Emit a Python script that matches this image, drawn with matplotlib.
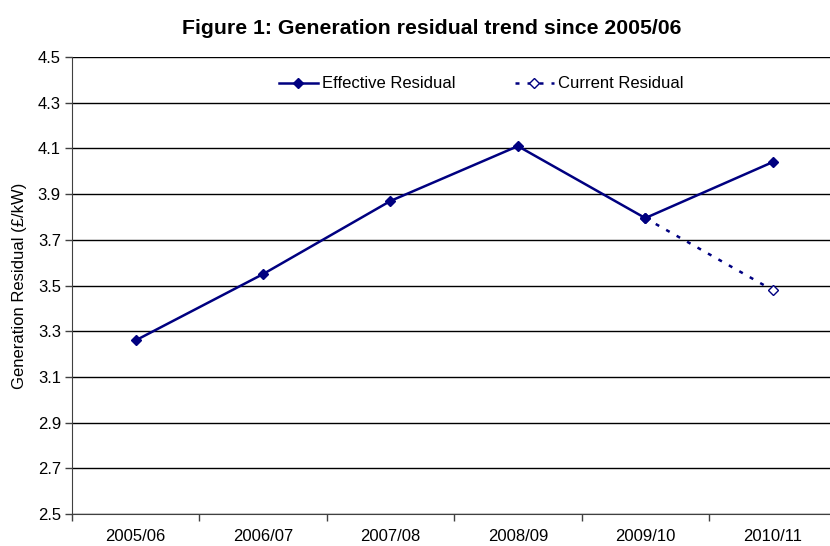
import matplotlib.pyplot as plt
import numpy as np

plt.rcParams['font.family'] = ['Liberation Sans', 'DejaVu Sans']

# Residual values (£/kW) by charging year
years = ['2005/06', '2006/07', '2007/08', '2008/09', '2009/10', '2010/11']
effective = [3.26, 3.55, 3.87, 4.11, 3.795, 4.04]
current_years = ['2009/10', '2010/11']
current = [3.795, 3.48]

navy = '#000080'

fig = plt.figure(figsize=(8.30, 5.46), dpi=100)
ax = fig.add_axes([72 / 830, 1 - 514 / 546, 1 - 72 / 830, (514 - 57) / 546])

x = np.arange(len(years))
xc = [years.index(y) for y in current_years]

ax.plot(x, effective, color=navy, lw=1.8, marker='D', ms=5,
        mfc=navy, mec=navy, label='Effective Residual', zorder=4)
ax.plot(xc, current, color=navy, lw=1.8, ls=(0, (1.6, 3.2)), marker='D', ms=5,
        mfc='white', mec=navy, mew=1, label='Current Residual', zorder=3)

ax.set_ylim(2.5, 4.5)
ax.set_yticks(np.arange(2.5, 4.51, 0.2))
ax.set_yticklabels([f'{v:.1f}' for v in np.arange(2.5, 4.51, 0.2)])
ax.set_xlim(-0.5, 5.45)
ax.set_xticks(x)
ax.set_xticklabels(years)
ax.set_xticks(np.arange(-0.5, 5.5, 1.0), minor=True)
ax.tick_params(axis='x', which='major', length=0, pad=11, labelsize=12)
ax.tick_params(axis='x', which='minor', length=5, width=1, color='#404040')
ax.tick_params(axis='y', length=5, width=1, color='#404040', labelsize=12, pad=3)

ax.grid(axis='y', color='black', lw=1)
ax.set_axisbelow(True)
for side in ['top', 'right']:
    ax.spines[side].set_visible(False)
ax.spines['left'].set_color('#404040')
ax.spines['bottom'].set_color('#404040')

ax.set_ylabel('Generation Residual (£/kW)', fontsize=12, labelpad=8)
fig.suptitle('Figure 1: Generation residual trend since 2005/06', fontsize=15.3,
             fontweight='bold', x=0.52, y=0.965)

leg = ax.legend(loc='center', bbox_to_anchor=(0.54, 0.941), ncol=2,
                frameon=True, fontsize=12, columnspacing=3.6, handlelength=2.3,
                handletextpad=0.25, borderaxespad=0)
leg.get_frame().set_facecolor('white')
leg.get_frame().set_edgecolor('white')

fig.savefig('out.png', dpi=100)
